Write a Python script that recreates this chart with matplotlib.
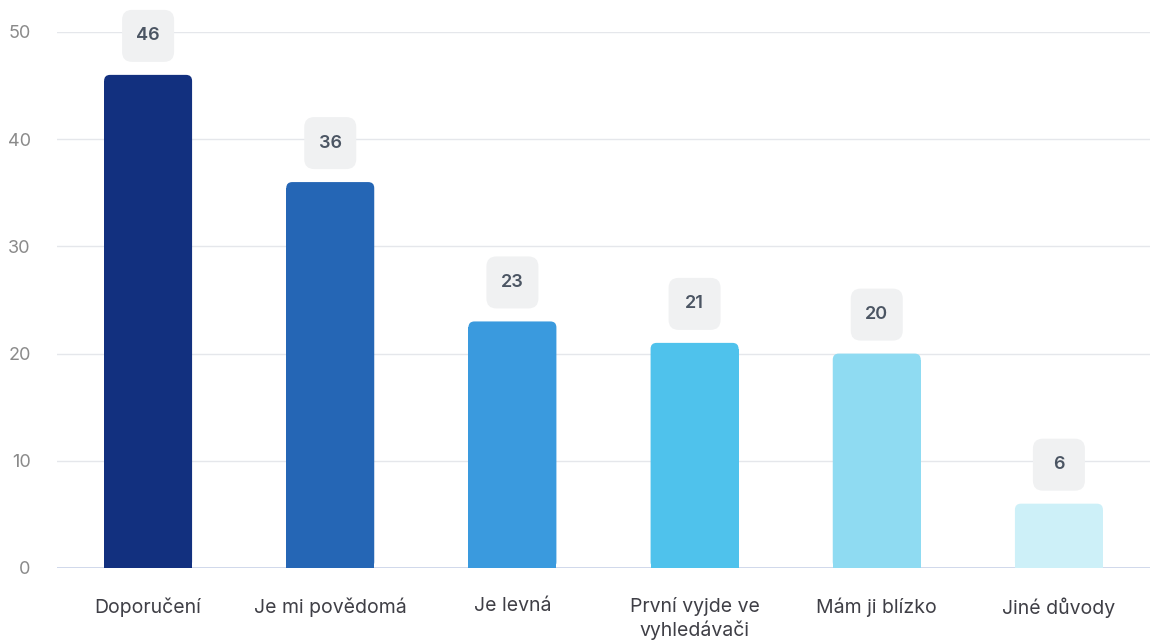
import matplotlib.pyplot as plt
from matplotlib import transforms
from matplotlib.patches import FancyBboxPatch

plt.rcParams['font.family'] = ['Inter', 'DejaVu Sans']

# data
categories = ['Doporučení', 'Je mi povědomá', 'Je levná', 'První vyjde ve\nvyhledávači',
              'Mám ji blízko', 'Jiné důvody']
values = [46, 36, 23, 21, 20, 6]
colors = ['#12307f', '#2566b5', '#3a9ade', '#4fc2ec', '#8fdbf2', '#cdf0f8']
yticks = [0, 10, 20, 30, 40, 50]

W, H = 1154, 644
fig = plt.figure(figsize=(W / 100, H / 100), dpi=100)
ax = fig.add_axes([57 / W, 76 / H, 1093 / W, 536 / H])

x = list(range(len(values)))
bw = 0.483
ax.set_xlim(-0.5, len(values) - 0.5)
ax.set_ylim(0, 50)

# px -> data units
xu = 1 / (1093 / 6)
yu = 50 / 536
r = 6  # corner radius px

for i, v in enumerate(values):
    # square lower part
    ax.bar(i, v - r * yu, bw, color=colors[i], zorder=3, linewidth=0)
    # rounded top
    p = FancyBboxPatch((i - bw / 2, 0), bw, v,
                       boxstyle=f'round,pad=0,rounding_size={r * xu}',
                       mutation_aspect=yu / xu, facecolor=colors[i],
                       edgecolor='none', zorder=3)
    ax.add_patch(p)

    # value label box (fixed size, in inches relative to bar top)
    tr = fig.dpi_scale_trans + transforms.ScaledTranslation(i, v, ax.transData)
    box = FancyBboxPatch((-0.26, 0.13), 0.52, 0.52,
                         boxstyle='round,pad=0,rounding_size=0.1',
                         facecolor='#f0f1f2', edgecolor='none',
                         transform=tr, clip_on=False, zorder=4)
    ax.add_patch(box)
    ax.text(0, 0.39, str(v), transform=tr, ha='center', va='center',
            fontsize=13, fontweight='semibold', color='#4b5563', zorder=5)

ax.set_yticks(yticks)
ax.set_xticks(x)
ax.set_xticklabels(categories, fontsize=14, color='#3f3f46', linespacing=1.25)
ax.tick_params(axis='x', length=0, pad=21)
ax.tick_params(axis='y', length=0, pad=19, labelsize=13, labelcolor='#8a8a8a')

ax.grid(axis='y', color='#e5e7eb', linewidth=1, zorder=0)
ax.axhline(0, color='#c9d3e8', linewidth=1.2, zorder=2)
for s in ax.spines.values():
    s.set_visible(False)

plt.savefig('out.png', dpi=100)
